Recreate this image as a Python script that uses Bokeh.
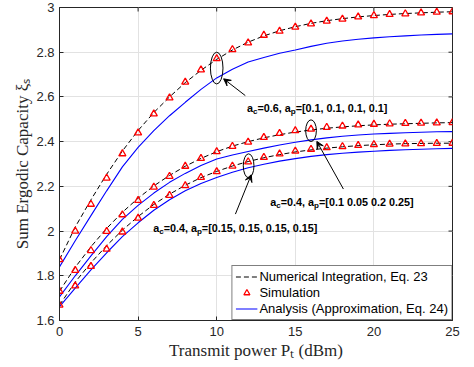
import numpy as np
from bokeh.plotting import figure
from bokeh.models import (Range1d, FixedTicker, Legend, LegendItem,
                          Arrow, VeeHead, ColumnDataSource)
from bokeh.core.properties import value
from bokeh.embed import file_html
from bokeh.resources import INLINE

# ---- data -------------------------------------------------------------
pt_dbm = list(range(0, 26))

# a_c = 0.6, a_p = [0.1, 0.1, 0.1, 0.1]
sim_a = [1.872, 2.000, 2.120, 2.237, 2.346, 2.439, 2.524, 2.596, 2.666, 2.721,
         2.771, 2.812, 2.842, 2.876, 2.894, 2.912, 2.927, 2.939, 2.948, 2.958,
         2.964, 2.969, 2.972, 2.976, 2.979, 2.981]
num_a = [1.872, 2.018, 2.140, 2.254, 2.358, 2.450, 2.530, 2.600, 2.664, 2.719,
         2.768, 2.810, 2.845, 2.873, 2.896, 2.914, 2.929, 2.941, 2.950, 2.958,
         2.964, 2.969, 2.973, 2.976, 2.979, 2.981]
ana_a = [1.840, 1.957, 2.069, 2.180, 2.287, 2.374, 2.449, 2.516, 2.576, 2.634,
         2.685, 2.724, 2.756, 2.776, 2.795, 2.810, 2.826, 2.840, 2.850, 2.858,
         2.864, 2.869, 2.873, 2.877, 2.880, 2.882]

# a_c = 0.4, a_p = [0.1 0.05 0.2 0.25]
sim_b = [1.731, 1.824, 1.913, 1.999, 2.073, 2.137, 2.197, 2.245, 2.290, 2.325,
         2.355, 2.379, 2.398, 2.419, 2.437, 2.449, 2.456, 2.464, 2.470, 2.475,
         2.478, 2.480, 2.482, 2.483, 2.484, 2.485]
num_b = [1.731, 1.838, 1.930, 2.012, 2.084, 2.147, 2.202, 2.249, 2.290, 2.325,
         2.355, 2.380, 2.400, 2.417, 2.431, 2.443, 2.452, 2.460, 2.466, 2.471,
         2.475, 2.478, 2.480, 2.482, 2.484, 2.485]
ana_b = [1.706, 1.800, 1.889, 1.975, 2.052, 2.115, 2.170, 2.218, 2.258, 2.293,
         2.322, 2.340, 2.356, 2.371, 2.385, 2.397, 2.408, 2.417, 2.424, 2.430,
         2.434, 2.437, 2.440, 2.442, 2.444, 2.445]

# a_c = 0.4, a_p = [0.15, 0.15, 0.15, 0.15]
sim_c = [1.669, 1.755, 1.842, 1.919, 1.996, 2.058, 2.115, 2.160, 2.203, 2.240,
         2.266, 2.291, 2.310, 2.330, 2.345, 2.358, 2.366, 2.373, 2.378, 2.383,
         2.387, 2.389, 2.390, 2.391, 2.392, 2.393]
num_c = [1.669, 1.772, 1.858, 1.935, 2.004, 2.065, 2.119, 2.165, 2.205, 2.239,
         2.267, 2.291, 2.311, 2.328, 2.342, 2.354, 2.363, 2.371, 2.377, 2.382,
         2.386, 2.389, 2.391, 2.392, 2.393, 2.393]
ana_c = [1.662, 1.745, 1.826, 1.903, 1.975, 2.037, 2.093, 2.140, 2.180, 2.213,
         2.240, 2.263, 2.283, 2.299, 2.313, 2.324, 2.334, 2.342, 2.348, 2.353,
         2.357, 2.361, 2.364, 2.366, 2.368, 2.370]

x_ticks = [0, 5, 10, 15, 20, 25]
y_ticks = [1.6, 1.8, 2.0, 2.2, 2.4, 2.6, 2.8, 3.0]
y_tick_labels = ["1.6", "1.8", "2", "2.2", "2.4", "2.6", "2.8", "3"]

x_title = "Transmit power P\u209c (dBm)"
y_title = "Sum Ergodic Capacity \u03be\u209b"

legend_labels = ["Numerical Integration, Eq. 23", "Simulation",
                 "Analysis (Approximation, Eq. 24)"]

# ---- layout -----------------------------------------------------------
W, H = 474, 367
BL, BR, BT, BB = 59, 22, 7, 47
X_MIN, X_MAX = 0, 25
Y_MIN, Y_MAX = 1.6, 3.0
PX_X = (W - BL - BR) / (X_MAX - X_MIN)
PX_Y = (H - BT - BB) / (Y_MAX - Y_MIN)
TICK_LEN = 4

AX_COLOR = "#262626"

p = figure(width=W, height=H, output_backend="svg", toolbar_location=None,
           x_range=Range1d(X_MIN, X_MAX), y_range=Range1d(Y_MIN, Y_MAX),
           min_border_left=BL, min_border_right=BR,
           min_border_top=BT, min_border_bottom=BB)
p.outline_line_color = AX_COLOR
p.outline_line_width = 1
p.background_fill_color = "white"
p.border_fill_color = "white"

for ax in (p.xaxis[0], p.yaxis[0]):
    ax.axis_line_color = AX_COLOR
    ax.major_tick_line_color = AX_COLOR
    ax.major_tick_in = TICK_LEN
    ax.major_tick_out = 0
    ax.minor_tick_in = 0
    ax.minor_tick_out = 0
    ax.major_label_text_font = "Liberation Sans"
    ax.major_label_text_font_size = "13px"
    ax.major_label_text_color = AX_COLOR
    ax.axis_label_text_font = "Liberation Serif"
    ax.axis_label_text_font_style = "normal"
    ax.axis_label_text_font_size = "17px"
    ax.axis_label_text_color = AX_COLOR
p.xaxis.ticker = FixedTicker(ticks=x_ticks)
p.xaxis.major_label_standoff = 6
p.xaxis.axis_label = x_title
p.xaxis.axis_label_standoff = 2
p.yaxis.ticker = FixedTicker(ticks=y_ticks)
p.yaxis.major_label_standoff = 5
p.yaxis.major_label_overrides = dict(zip(y_ticks, y_tick_labels))
p.yaxis.axis_label = y_title
p.yaxis.axis_label_standoff = 1

p.xgrid.ticker = FixedTicker(ticks=x_ticks)
p.ygrid.ticker = FixedTicker(ticks=y_ticks)
p.grid.grid_line_color = "#e2e2e2"
p.grid.grid_line_width = 1

# inward ticks on the top and right edges of the box
p.segment(x0=x_ticks, x1=x_ticks, y0=[Y_MAX] * len(x_ticks),
          y1=[Y_MAX - TICK_LEN / PX_Y] * len(x_ticks),
          line_color=AX_COLOR, line_width=1)
p.segment(x0=[X_MAX] * len(y_ticks), x1=[X_MAX - TICK_LEN / PX_X] * len(y_ticks),
          y0=y_ticks, y1=y_ticks, line_color=AX_COLOR, line_width=1)

# ---- curves -----------------------------------------------------------
src = ColumnDataSource(dict(x=pt_dbm,
                            sim_a=sim_a, num_a=num_a, ana_a=ana_a,
                            sim_b=sim_b, num_b=num_b, ana_b=ana_b,
                            sim_c=sim_c, num_c=num_c, ana_c=ana_c))

r_num, r_ana, r_sim = [], [], []
for k in ("a", "b", "c"):
    r_num.append(p.line("x", "num_" + k, source=src, line_color="black",
                        line_dash="5 3", line_width=1))
for k in ("a", "b", "c"):
    r_ana.append(p.line("x", "ana_" + k, source=src, line_color="#0000ff",
                        line_width=1.1))
for k in ("a", "b", "c"):
    r_sim.append(p.scatter("x", "sim_" + k, source=src, marker="triangle",
                           size=7, line_color="#ff0000", line_width=1.3,
                           fill_color=None))

# ---- ellipses and arrows ----------------------------------------------
ell_x = [10.0, 16.0, 12.03]
ell_y = [2.729, 2.449, 2.292]
ell_w = [0.80, 0.68, 0.68]
ell_h = [0.142, 0.097, 0.107]
p.ellipse(x=ell_x, y=ell_y, width=ell_w, height=ell_h, fill_color=None,
          line_color="black", line_width=1)

arrows = [((11.82, 2.606), (10.44, 2.681)),
          ((18.06, 2.188), (16.37, 2.401)),
          ((11.19, 2.076), (12.20, 2.252))]
for (xs, ys), (xe, ye) in arrows:
    p.add_layout(Arrow(end=VeeHead(size=7, fill_color="black",
                                   line_color="black", line_width=1),
                       x_start=xs, y_start=ys, x_end=xe, y_end=ye,
                       line_color="black", line_width=1))

# ---- annotation texts with subscripts --------------------------------
ARIAL_BOLD = {" ": 278, ",": 278, ".": 278, "=": 584, "[": 333, "]": 333,
              "a": 556, "c": 556, "p": 611}
for d in "0123456789":
    ARIAL_BOLD[d] = 556

def width(s, table, size):
    return sum(table[ch] for ch in s) * size / 1000.0

ANN_FS, SUB_FS, SUB_DY = 10.8, 8.0, 3.5
ann_runs = [
    [("a", 0), ("c", 1), ("=0.6, a", 0), ("p", 1), ("=[0.1, 0.1, 0.1, 0.1]", 0)],
    [("a", 0), ("c", 1), ("=0.4, a", 0), ("p", 1), ("=[0.1 0.05 0.2 0.25]", 0)],
    [("a", 0), ("c", 1), ("=0.4, a", 0), ("p", 1), ("=[0.15, 0.15, 0.15, 0.15]", 0)],
]
ann_pos = [(11.93, 2.550), (13.41, 2.128), (5.96, 2.013)]

tx, ty, tt, txo, tyo, tfs = [], [], [], [], [], []
for run, (ax_, ay_) in zip(ann_runs, ann_pos):
    off = 0.0
    for s, sub in run:
        fs = SUB_FS if sub else ANN_FS
        tx.append(ax_); ty.append(ay_); tt.append(s)
        txo.append(off); tyo.append(SUB_DY if sub else 0.0)
        tfs.append(f"{fs}px")
        off += width(s, ARIAL_BOLD, fs)
ann_src = ColumnDataSource(dict(x=tx, y=ty, text=tt, xo=txo, yo=tyo, fs=tfs))
p.text(x="x", y="y", text="text", x_offset="xo", y_offset="yo",
       text_font_size="fs", text_font=value("Liberation Sans"),
       text_font_style="bold", text_baseline="alphabetic", text_align="left",
       text_color="black", source=ann_src)

# ---- legend -----------------------------------------------------------
legend = Legend(items=[LegendItem(label=legend_labels[0], renderers=[r_num[0]]),
                       LegendItem(label=legend_labels[1], renderers=[r_sim[0]]),
                       LegendItem(label=legend_labels[2], renderers=[r_ana[0]])],
                location="bottom_right", margin=0, padding=3, spacing=1,
                glyph_width=22, glyph_height=15, label_height=15,
                label_standoff=2, label_text_font="Liberation Sans",
                label_text_font_size="13px", label_text_color="black",
                border_line_color="black", border_line_width=1,
                background_fill_color="white", background_fill_alpha=1)
p.add_layout(legend)

open("out.html", "w").write(file_html(p, INLINE))
